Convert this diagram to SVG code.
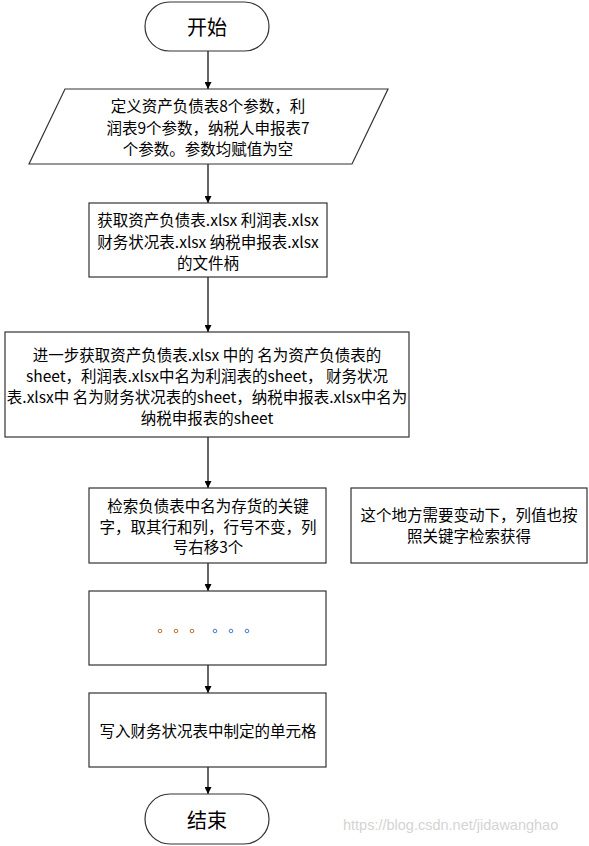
<svg xmlns="http://www.w3.org/2000/svg" width="589" height="846" viewBox="0 0 589 846">
<style>
.shape{fill:#fff;stroke:#333;stroke-width:1.2}
.t{font-family:"Noto Sans CJK SC","Noto Sans",sans-serif;font-size:15.5px;fill:#000;text-anchor:middle;dominant-baseline:central}
.big{font-size:20px}
.conn{stroke:#000;stroke-width:1.2;fill:none;marker-end:url(#arr)}
.wm{font-family:"Liberation Sans",Arial,sans-serif;font-size:14.5px;fill:#d4d4d4}
</style>
<defs>
<marker id="arr" viewBox="0 0 10 10" refX="10" refY="5" markerWidth="7" markerHeight="7" markerUnits="userSpaceOnUse" orient="auto">
<path d="M0,0 L10,5 L0,10 z" fill="#000"/>
</marker>
</defs>
<rect width="589" height="846" fill="#fff"/>
<g id="connectors">
<line class="conn" x1="208" y1="51" x2="208" y2="89"/>
<line class="conn" x1="208" y1="164" x2="208" y2="203"/>
<line class="conn" x1="208" y1="277" x2="208" y2="332"/>
<line class="conn" x1="208" y1="437" x2="208" y2="488"/>
<line class="conn" x1="208" y1="563" x2="208" y2="591"/>
<line class="conn" x1="208" y1="665" x2="208" y2="693"/>
<line class="conn" x1="208" y1="767" x2="208" y2="794"/>
</g>
<g id="start">
<rect class="shape" x="145" y="2" width="124" height="49" rx="24.5"/>
<text class="t big" x="207" y="26.5">开始</text>
</g>
<g id="define">
<polygon class="shape" points="65,89 388,89 352,164 29,164"/>
<text class="t" x="208" y="105">定义资产负债表8个参数，利</text>
<text class="t" x="208" y="127">润表9个参数，纳税人申报表7</text>
<text class="t" x="208" y="148">个参数。参数均赋值为空</text>
</g>
<g id="handles">
<rect class="shape" x="89" y="203" width="238" height="74"/>
<text class="t" x="208" y="219">获取资产负债表.xlsx 利润表.xlsx</text>
<text class="t" x="208" y="240.5">财务状况表.xlsx 纳税申报表.xlsx</text>
<text class="t" x="208" y="262">的文件柄</text>
</g>
<g id="sheets">
<rect class="shape" x="5" y="332" width="404" height="105"/>
<text class="t" x="207" y="354">进一步获取资产负债表.xlsx 中的 名为资产负债表的</text>
<text class="t" x="207" y="375">sheet，利润表.xlsx中名为利润表的sheet， 财务状况</text>
<text class="t" x="207" y="396">表.xlsx中 名为财务状况表的sheet，纳税申报表.xlsx中名为</text>
<text class="t" x="207" y="417">纳税申报表的sheet</text>
</g>
<g id="search">
<rect class="shape" x="89" y="488" width="237" height="75"/>
<text class="t" x="208" y="505">检索负债表中名为存货的关键</text>
<text class="t" x="208" y="526">字，取其行和列，行号不变，列</text>
<text class="t" x="208" y="546">号右移3个</text>
</g>
<g id="note">
<rect class="shape" x="351" y="488" width="236" height="75"/>
<text class="t" x="469" y="514">这个地方需要变动下，列值也按</text>
<text class="t" x="469" y="535">照关键字检索获得</text>
</g>
<g id="ellipsis">
<rect class="shape" x="89" y="591" width="237" height="74"/>
<g fill="none" stroke-width="1">
<circle cx="160" cy="631" r="1.8" stroke="#b8743a"/>
<circle cx="176" cy="631" r="1.8" stroke="#b8743a"/>
<circle cx="192" cy="631" r="1.8" stroke="#b8743a"/>
<circle cx="215" cy="631" r="1.8" stroke="#4a7fc0"/>
<circle cx="231" cy="631" r="1.8" stroke="#4a7fc0"/>
<circle cx="247" cy="631" r="1.8" stroke="#4a7fc0"/>
</g>
</g>
<g id="write">
<rect class="shape" x="89" y="693" width="237" height="74"/>
<text class="t" x="208" y="730">写入财务状况表中制定的单元格</text>
</g>
<g id="end">
<rect class="shape" x="145" y="794" width="124" height="50" rx="25"/>
<text class="t big" x="207" y="819">结束</text>
</g>
<text class="wm" x="343" y="830">https://blog.csdn.net/jidawanghao</text>
</svg>
